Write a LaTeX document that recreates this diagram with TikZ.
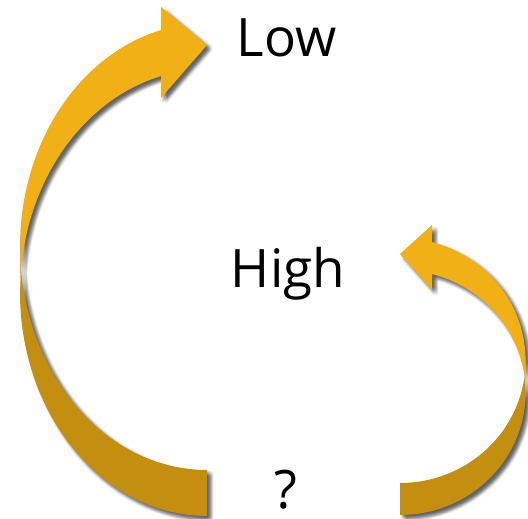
\documentclass[tikz,border=0pt]{standalone}
\usepackage{fontspec}
\setmainfont{Open Sans}
\definecolor{goldbright}{RGB}{240,176,22}
\definecolor{golddark}{RGB}{196,142,16}
\tikzset{
  shadowlayer/.style={fill=black, fill opacity=0.022},
  brightpart/.style={fill=goldbright},
  darkpart/.style={fill=golddark},
  lbl/.style={anchor=base, inner sep=0pt, font=\fontsize{53}{60}\selectfont}
}
% left arrow: centre x 207, rx 187, ry 223.4, C1 cy 292.6, C2 cy 246.6
\newcommand\lfront{(20,292.6) -- (20,246.6)
  -- plot[domain=180:255.76, samples=50, variable=\t] ({207+187*cos(\t)}, {246.6+223.4*sin(\t)})
  -- (161,7) -- (207,45) -- (161,98)
  -- plot[domain=255.76:180, samples=50, variable=\t] ({207+187*cos(\t)}, {292.6+223.4*sin(\t)}) -- cycle}
\newcommand\lback{(20,292.6)
  -- plot[domain=180:90, samples=60, variable=\t] ({207+187*cos(\t)}, {292.6+223.4*sin(\t)})
  -- plot[domain=90:174.1, samples=60, variable=\t] ({207+187*cos(\t)}, {246.6+223.4*sin(\t)}) -- cycle}
% right arrow: centre x 400, rx 125.6, ry 122.5, C1 cy 392.5, C2 cy 360.5
\newcommand\rfront{(525.6,392.5) -- (525.6,360.5)
  -- plot[domain=360:284.76, samples=50, variable=\t] ({400+125.6*cos(\t)}, {360.5+122.5*sin(\t)})
  -- (432,225) -- (400,254) -- (432,290)
  -- plot[domain=284.76:360, samples=50, variable=\t] ({400+125.6*cos(\t)}, {392.5+122.5*sin(\t)}) -- cycle}
\newcommand\rback{(525.6,392.5)
  -- plot[domain=0:90, samples=60, variable=\t] ({400+125.6*cos(\t)}, {392.5+122.5*sin(\t)})
  -- plot[domain=90:7.5, samples=60, variable=\t] ({400+125.6*cos(\t)}, {360.5+122.5*sin(\t)}) -- cycle}
\begin{document}
\begin{tikzpicture}[x=1pt, y=-1pt]
\useasboundingbox (0,0) rectangle (528,519);
\fill[white] (0,0) rectangle (528,519);
% soft drop shadows (layered copies shifted right and down)
\foreach \dx in {1,2,3,4,5,6}{
  \foreach \dy in {1,2,3,4,5,6}{
    \begin{scope}[shift={(\dx,\dy)}]
      \path[shadowlayer] \lfront;
      \path[shadowlayer] \lback;
      \path[shadowlayer] \rfront;
      \path[shadowlayer] \rback;
    \end{scope}
  }
}
% fills
\path[darkpart] \lback;
\path[brightpart] \lfront;
\path[darkpart] \rback;
\path[brightpart] \rfront;
% labels
\node[lbl] (low) at (286.5,57) {Low};
\node[lbl] (high) at (288,287) {High};
\node[lbl] (q) at (286,508) {?};
\end{tikzpicture}
\end{document}
